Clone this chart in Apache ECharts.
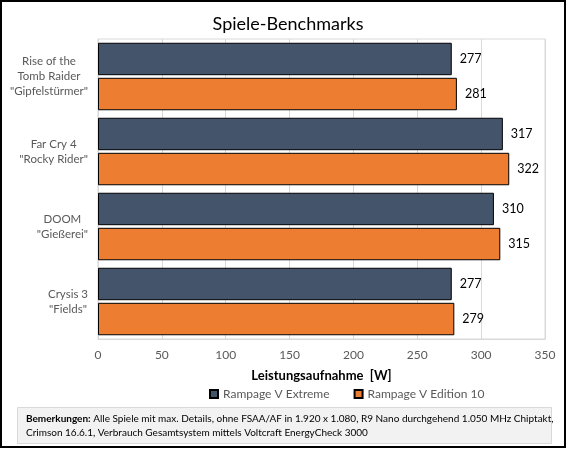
<!DOCTYPE html>
<html>
<head>
<meta charset="utf-8">
<script src="https://cdn.jsdelivr.net/npm/echarts@6/dist/echarts.min.js"></script>
<style>
  html, body { margin: 0; padding: 0; background: #fff; }
  #chart { width: 567px; height: 451px; }
</style>
</head>
<body>
<div id="chart"></div>
<script>
// Spiele-Benchmarks, Leistungsaufnahme
var categories = ['Rise of the\nTomb Raider\n"Gipfelstürmer"', 'Far Cry 4\n"Rocky Rider"', 'DOOM\n"Gießerei"', 'Crysis 3\n"Fields"'];
var seriesNames = ['Rampage V Extreme', 'Rampage V Edition 10'];
var extremeValues = [277, 317, 310, 277];
var edition10Values = [281, 322, 315, 279];
var xTicks = [0, 50, 100, 150, 200, 250, 300, 350];

var fontFam = 'Lato, "Open Sans", sans-serif';
var chart = echarts.init(document.getElementById('chart'));

var barLabel = {
    show: true,
    position: 'right',
    distance: 8,
    color: '#000',
    fontSize: 12.5,
    fontFamily: fontFam
};

var option = {
    animation: false,
    title: [{
        text: 'Spiele-Benchmarks',
        left: 283,
        top: 10,
        textAlign: 'center',
        textStyle: { fontSize: 18, fontWeight: 'normal', color: '#000', fontFamily: fontFam }
    }],
    legend: {
        data: seriesNames,
        left: 209,
        top: 388,
        padding: 0,
        icon: 'rect',
        itemWidth: 8,
        itemHeight: 8,
        itemGap: 24,
        textStyle: { color: '#595959', fontSize: 12, fontFamily: fontFam }
    },
    grid: {
        left: 98,
        right: 22,
        top: 39,
        bottom: 112,
        show: true,
        borderColor: '#D9D9D9',
        borderWidth: 1,
        containLabel: false
    },
    xAxis: {
        type: 'value',
        min: xTicks[0],
        max: xTicks[xTicks.length - 1],
        interval: 50,
        name: 'Leistungsaufnahme  [W]',
        nameLocation: 'middle',
        nameGap: 30,
        nameTextStyle: { fontWeight: 'bold', fontSize: 13, color: '#000', fontFamily: fontFam },
        axisLine: { show: true, lineStyle: { color: '#D9D9D9' } },
        axisTick: { show: false },
        axisLabel: { color: '#595959', fontSize: 12, margin: 10, fontFamily: fontFam },
        splitLine: { show: true, lineStyle: { color: '#D9D9D9' } }
    },
    yAxis: {
        type: 'category',
        data: categories,
        inverse: true,
        axisLine: { show: false },
        axisTick: { show: false },
        axisLabel: {
            color: '#595959',
            fontSize: 11.5,
            fontFamily: fontFam,
            align: 'right',
            margin: 10,
            lineHeight: 15,
            formatter: function(v) {
                return v.split('\n').map(function(l) { return '{c|' + l + '}'; }).join('\n');
            },
            rich: {
                c: { align: 'center', color: '#595959', fontSize: 11.5, fontFamily: fontFam, lineHeight: 15 }
            }
        },
        splitLine: { show: false }
    },
    series: [
        {
            name: seriesNames[0],
            type: 'bar',
            data: extremeValues,
            barGap: '8%',
            barCategoryGap: '10%',
            itemStyle: { color: '#44546A', borderColor: '#000', borderWidth: 1 },
            label: barLabel
        },
        {
            name: seriesNames[1],
            type: 'bar',
            data: edition10Values,
            barGap: '8%',
            barCategoryGap: '10%',
            itemStyle: { color: '#ED7D31', borderColor: '#000', borderWidth: 1 },
            label: barLabel
        }
    ],
    graphic: [
        {
            type: 'rect',
            shape: { x: 1, y: 1, width: 564, height: 446 },
            style: { fill: 'none', stroke: '#000', lineWidth: 2 },
            silent: true
        },
        {
            type: 'rect',
            shape: { x: 17.5, y: 407.5, width: 534, height: 36 },
            style: { fill: '#F2F2F2', stroke: '#D9D9D9', lineWidth: 1 },
            silent: true
        },
        {
            type: 'text',
            left: 26,
            top: 412,
            style: {
                text: '{b|Bemerkungen:} Alle Spiele mit max. Details, ohne FSAA/AF in 1.920 x 1.080, R9 Nano durchgehend 1.050 MHz Chiptakt,\nCrimson 16.6.1, Verbrauch Gesamtsystem mittels Voltcraft EnergyCheck 3000',
                fill: '#000',
                fontSize: 10,
                fontFamily: fontFam,
                lineHeight: 14,
                rich: {
                    b: { fontWeight: 'bold', fontSize: 10, fontFamily: fontFam, fill: '#000' }
                }
            },
            silent: true
        }
    ]
};

chart.setOption(option);
</script>
</body>
</html>
